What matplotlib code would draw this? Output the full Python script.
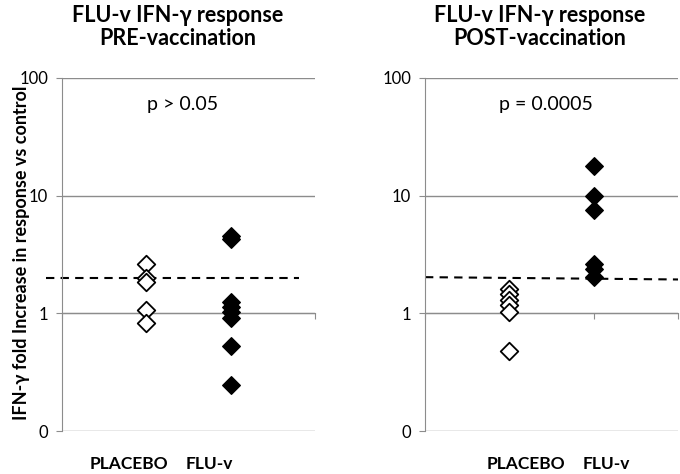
import numpy as np
import matplotlib.pyplot as plt

# values (fold increase, log scale)
groups = ["PLACEBO", "FLU-v"]
pre_placebo = [2.62, 1.99, 1.84, 1.06, 0.82]
pre_fluv = [4.5, 4.3, 1.25, 1.13, 1.03, 0.91, 0.53, 0.244]
post_placebo = [1.62, 1.47, 1.29, 1.17, 1.03, 0.48]
post_fluv = [18.0, 10.0, 7.5, 2.65, 2.4, 2.05]
pre_cut_x = [-0.19, 2.81]
pre_cut_y = [2.0, 2.0]
post_cut_x = [0.0, 3.0]
post_cut_y = [2.03, 1.94]
yticks = [0.1, 1, 10, 100]
ytick_labels = ["0", "1", "10", "100"]

titles = ["FLU-v IFN-\u03b3 response\nPRE-vaccination",
          "FLU-v IFN-\u03b3 response\nPOST-vaccination"]
pvals = ["p > 0.05", "p = 0.0005"]

plt.rcParams['font.family'] = ['Lato', 'DejaVu Sans']
grey = '#8c8c8c'

W, H = 680, 474
fig = plt.figure(figsize=(W / 100, H / 100), dpi=100)

# axes left px, data, cut-off line, title centre, label right edge / left edge
panels = [
  (62, pre_placebo, pre_fluv, pre_cut_x, pre_cut_y, 178, 168, 186),
  (425, post_placebo, post_fluv, post_cut_x, post_cut_y, 540, 565, 583),
]

for i, (x0, plc, flu, cx, cy, tx, lx1, lx2) in enumerate(panels):
  ax = fig.add_axes([x0 / W, (H - 431) / H, 253 / W, 353 / H])
  ax.set_yscale('log')
  ax.set_ylim(0.1, 100)
  ax.set_xlim(0, 3)

  for y in yticks:
    ax.axhline(y, color=grey, lw=1.0, zorder=1)

  for s in ['top', 'right']:
    ax.spines[s].set_visible(False)
  ax.spines['left'].set_color(grey)
  ax.spines['bottom'].set_color(grey)
  ax.spines['bottom'].set_position(('data', 1))

  ax.set_yticks(yticks)
  ax.set_yticklabels(ytick_labels, fontsize=12)
  ax.yaxis.set_minor_locator(plt.NullLocator())
  ax.tick_params(axis='y', length=4, color=grey, pad=6)
  ax.set_xticks([0, 1, 2, 3])
  ax.set_xticklabels([])
  ax.tick_params(axis='x', length=4, color=grey, direction='out')

  ax.plot(cx, cy, color='black', ls=(0, (4, 3)), lw=1.5, clip_on=False, zorder=2)

  ax.scatter(np.full(len(plc), 1), plc, marker='D', s=80, facecolor='white',
             edgecolor='black', linewidth=1.3, zorder=3)
  ax.scatter(np.full(len(flu), 2), flu, marker='D', s=80, facecolor='black',
             edgecolor='black', linewidth=1.0, zorder=3)

  ax.text(1.43, 59, pvals[i], ha='center', va='center', fontsize=14)

  fig.text(tx / W, 1 - 27 / H, titles[i], ha='center', va='center',
           fontsize=15.5, fontweight='bold', linespacing=1.15)
  fig.text(lx1 / W, 1 - 464 / H, groups[0], ha='right', va='center',
           fontsize=12.5, fontweight='bold')
  fig.text(lx2 / W, 1 - 464 / H, groups[1], ha='left', va='center',
           fontsize=12.5, fontweight='bold')

fig.text(22 / W, 1 - 253 / H, "IFN-\u03b3 fold Increase in response vs control",
         rotation=90, ha='center', va='center', fontsize=13, fontweight='bold')

fig.savefig('out.png', dpi=100)
